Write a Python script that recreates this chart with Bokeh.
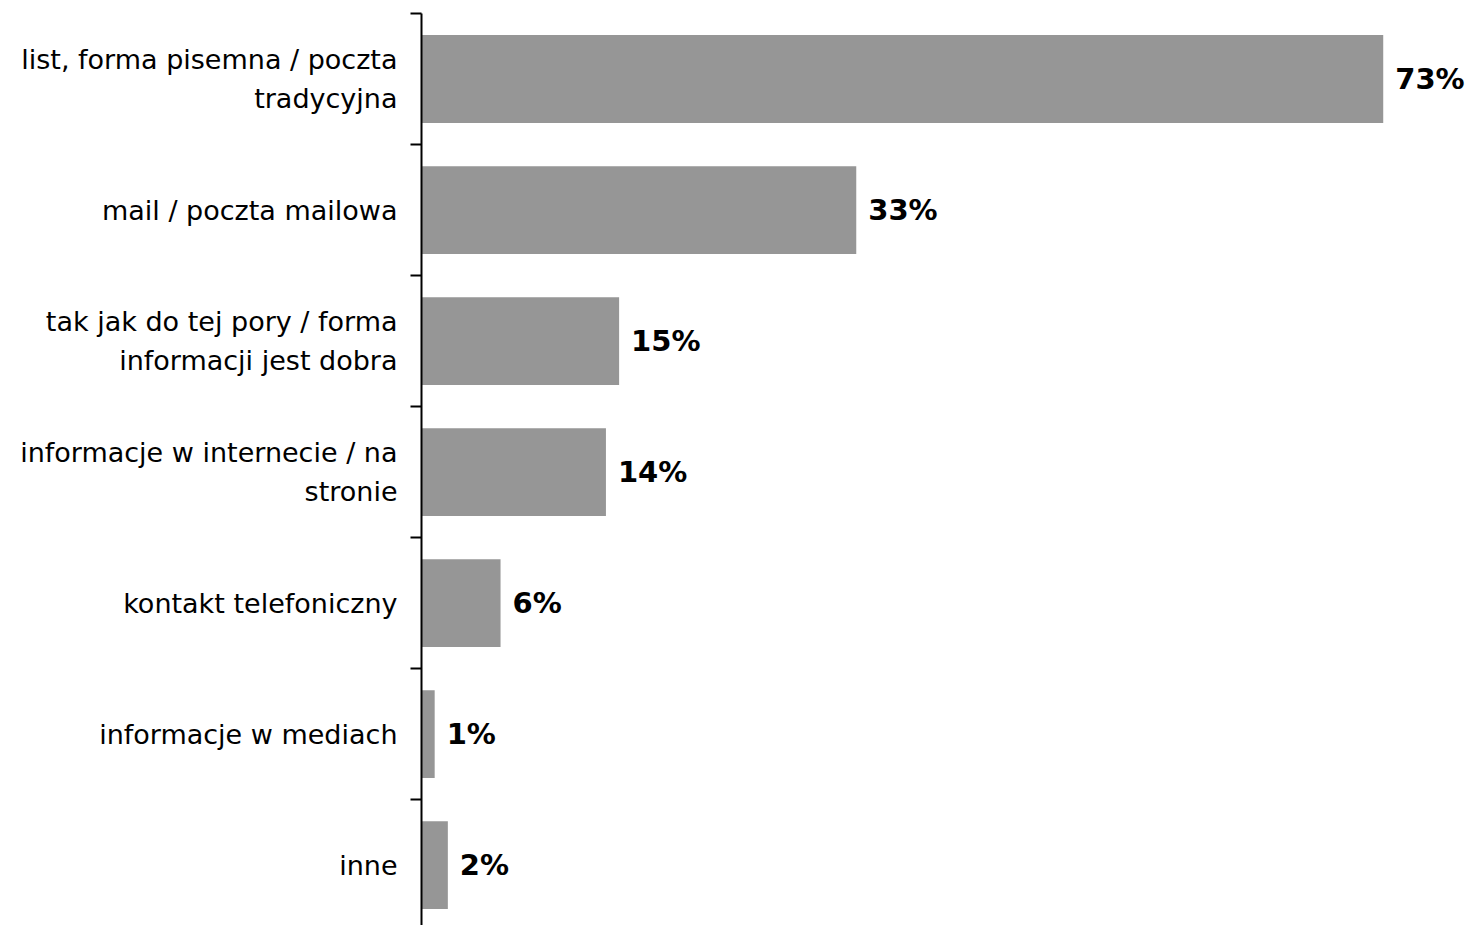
from bokeh.plotting import figure
from bokeh.models import Range1d, FixedTicker, ColumnDataSource
from bokeh.core.properties import value
from bokeh.embed import file_html
from bokeh.resources import INLINE

categories = [
    "list, forma pisemna / poczta\ntradycyjna",
    "mail / poczta mailowa",
    "tak jak do tej pory / forma\ninformacji jest dobra",
    "informacje w internecie / na\nstronie",
    "kontakt telefoniczny",
    "informacje w mediach",
    "inne",
]
values = [73, 33, 15, 14, 6, 1, 2]
value_labels = ["73%", "33%", "15%", "14%", "6%", "1%", "2%"]

n = len(categories)
pos = [i + 0.5 for i in range(n)]

src = ColumnDataSource(dict(y=pos, v=values, lab=value_labels))

p = figure(width=1471, height=925, output_backend="svg", toolbar_location=None,
           x_range=Range1d(0, 79.7), y_range=Range1d(6.96, 0),
           min_border_left=421, min_border_right=0, min_border_top=13, min_border_bottom=0)
p.outline_line_color = None
p.xaxis.visible = False
p.xgrid.visible = False
p.ygrid.visible = False
p.background_fill_color = "white"
p.border_fill_color = "white"

p.hbar(y="y", right="v", left=0, height=0.67, source=src,
       fill_color="#969696", line_color=None)

p.text(x="v", y="y", text="lab", source=src, x_offset=12,
       text_font=value("DejaVu Sans"), text_font_style="bold",
       text_font_size="29px", text_baseline="middle", text_align="left",
       text_color="black")

ax = p.yaxis[0]
ax.ticker = FixedTicker(ticks=pos, minor_ticks=list(range(n + 1)))
ax.major_label_overrides = {p_: c for p_, c in zip(pos, categories)}
ax.major_tick_line_color = None
ax.major_tick_out = 0
ax.major_tick_in = 0
ax.minor_tick_out = 11
ax.minor_tick_in = 0
ax.minor_tick_line_color = "black"
ax.minor_tick_line_width = 2
ax.axis_line_color = "black"
ax.axis_line_width = 2
ax.major_label_standoff = 13
ax.major_label_text_font = "DejaVu Sans"
ax.major_label_text_font_size = "27px"
ax.major_label_text_color = "black"
ax.major_label_text_line_height = 1.27
ax.major_label_text_align = "center"

open("out.html", "w").write(file_html(p, INLINE))
